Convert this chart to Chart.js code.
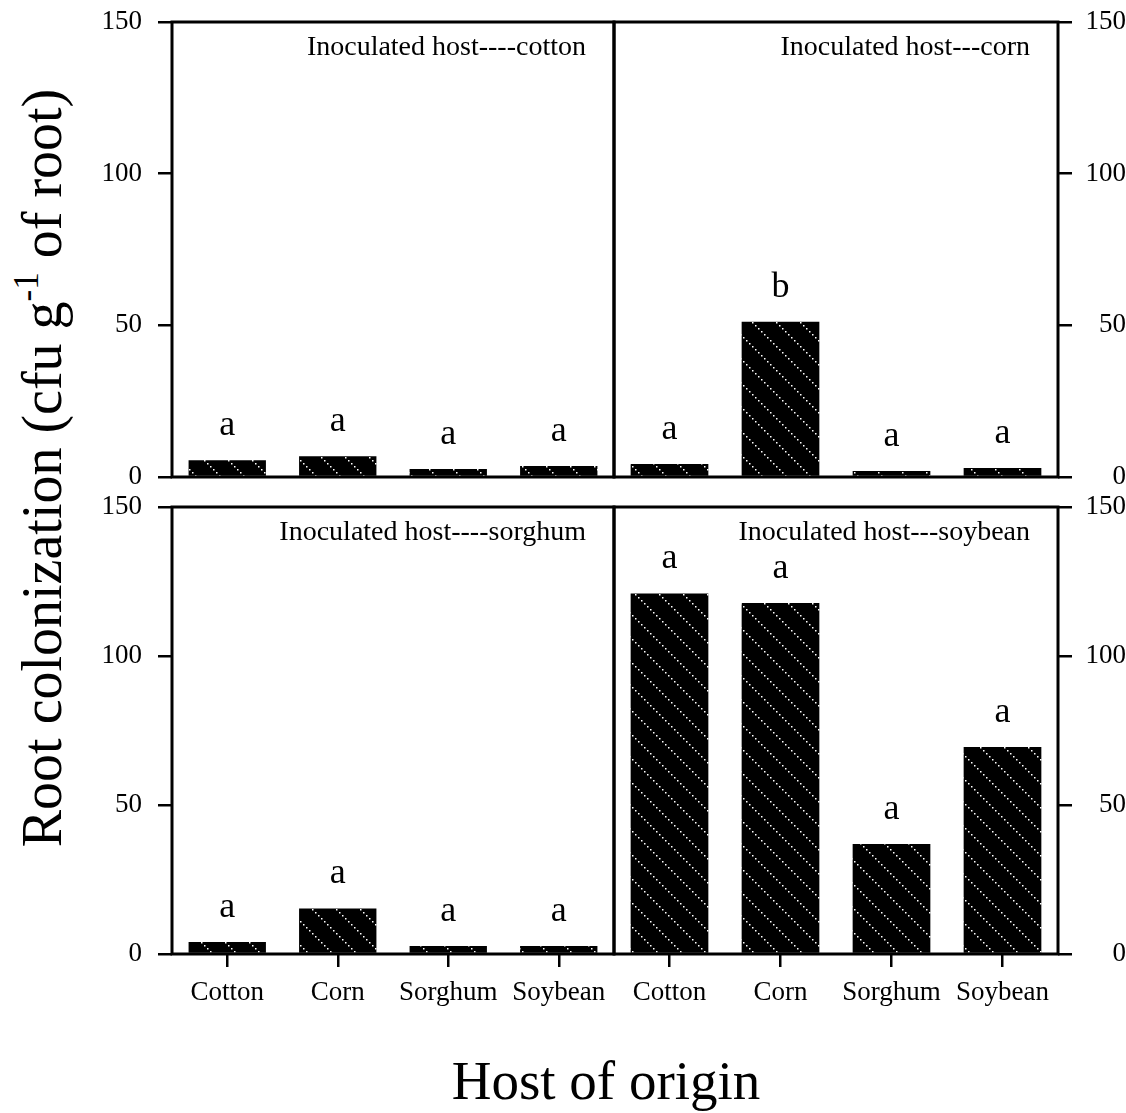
<!DOCTYPE html>
<html>
<head>
<meta charset="utf-8">
<script src="https://cdn.jsdelivr.net/npm/chart.js@4.4.1/dist/chart.umd.min.js"></script>
<style>
  html, body { margin: 0; padding: 0; background: #fff; }
  body { width: 1126px; height: 1113px; position: relative; overflow: hidden;
         font-family: 'Liberation Serif', 'Times New Roman', serif; color: #000; }
  canvas { position: absolute; }
  .ytitle { position: absolute; left: 42px; top: 468px; white-space: nowrap;
            font-size: 56px; transform: translate(-50%, -50%) rotate(-90deg); }
  .ytitle sup { font-size: 35px; vertical-align: 23px; line-height: 0; }
  .xtitle { position: absolute; left: 606px; top: 1080px; white-space: nowrap;
            font-size: 55px; transform: translate(-50%, -50%); }
</style>
</head>
<body>
<canvas id="pTL"></canvas>
<canvas id="pTR"></canvas>
<canvas id="pBL"></canvas>
<canvas id="pBR"></canvas>
<div class="ytitle">Root colonization (cfu g<sup>-1</sup> of root)</div>
<div class="xtitle">Host of origin</div>
<script>
'use strict';

/* ─── Data ─── */
const hosts = ['Cotton', 'Corn', 'Sorghum', 'Soybean'];

const titleCotton  = 'Inoculated host----cotton';
const titleCorn    = 'Inoculated host---corn';
const titleSorghum = 'Inoculated host----sorghum';
const titleSoybean = 'Inoculated host---soybean';

const cottonVals  = [5.5, 6.8, 2.6, 3.6];
const cornVals    = [4.3, 51.2, 2.0, 3.0];
const sorghumVals = [4.0, 15.3, 2.7, 2.7];
const soybeanVals = [121, 117.8, 36.9, 69.5];

const cottonLetters  = ['a', 'a', 'a', 'a'];
const cornLetters    = ['a', 'b', 'a', 'a'];
const sorghumLetters = ['a', 'a', 'a', 'a'];
const soybeanLetters = ['a', 'a', 'a', 'a'];

const yMin = 0, yMax = 150, yStep = 50;

const SERIF = "'Liberation Serif', 'Times New Roman', serif";

/* ─── Black fill with white dotted diagonals ─── */
function hatchPattern() {
  const c = document.createElement('canvas');
  c.width = 24; c.height = 24;
  const g = c.getContext('2d');
  g.fillStyle = '#000';
  g.fillRect(0, 0, 24, 24);
  g.fillStyle = '#fff';
  for (let i = 0; i < 24; i += 3) g.fillRect(i, i, 1.5, 1.5);
  return g.createPattern(c, 'repeat');
}

/* ─── Frame, panel title, letters above bars ─── */
const panelDeco = {
  id: 'panelDeco',
  afterDatasetsDraw(chart) {
    const { ctx, chartArea: a } = chart;
    const o = chart.options.plugins.panelDeco;
    ctx.save();
    ctx.fillStyle = '#000';
    ctx.font = '28px ' + SERIF;
    ctx.textAlign = 'right';
    ctx.textBaseline = 'alphabetic';
    ctx.fillText(o.title, a.right - 28, a.top + 33);

    ctx.font = '36px ' + SERIF;
    ctx.textAlign = 'center';
    chart.getDatasetMeta(0).data.forEach((bar, i) => {
      ctx.fillText(o.letters[i], bar.x, bar.y - 25);
    });

    ctx.strokeStyle = '#000';
    ctx.lineWidth = 3;
    ctx.strokeRect(a.left, a.top, a.right - a.left, a.bottom - a.top);
    ctx.restore();
  }
};

/* ─── Build one panel ─── */
function makePanel(id, box, values, letters, title, side, showX) {
  const el = document.getElementById(id);
  el.style.left = box.x + 'px';
  el.style.top = box.y + 'px';
  el.width = box.w;
  el.height = box.h;
  el.style.width = box.w + 'px';
  el.style.height = box.h + 'px';

  return new Chart(el, {
    type: 'bar',
    data: {
      labels: hosts,
      datasets: [{
        data: values,
        backgroundColor: hatchPattern(),
        borderWidth: 0,
        barPercentage: 0.7,
        categoryPercentage: 1.0
      }]
    },
    plugins: [panelDeco],
    options: {
      responsive: false,
      animation: false,
      layout: { padding: box.pad },
      plugins: {
        legend: { display: false },
        tooltip: { enabled: false },
        panelDeco: { title: title, letters: letters }
      },
      scales: {
        x: {
          display: showX,
          offset: true,
          border: { display: false },
          grid: { display: true, drawOnChartArea: false, offset: false,
                  tickLength: 13, color: '#000', lineWidth: 2.5 },
          ticks: { color: '#000', padding: 10, maxRotation: 0,
                   font: { family: SERIF, size: 27 } },
          afterFit: s => { s.height = showX ? 62 : 0; }
        },
        y: {
          position: side,
          min: yMin, max: yMax,
          border: { display: false },
          grid: { display: true, drawOnChartArea: false,
                  tickLength: 14, color: '#000', lineWidth: 2.5 },
          ticks: { stepSize: yStep, color: '#000', padding: side === 'left' ? 16 : 4,
                   crossAlign: side === 'left' ? 'near' : 'far',
                   font: { family: SERIF, size: 27 } },
          afterFit: s => { s.width = box.yw; }
        }
      }
    }
  });
}

/* plot areas: left 172–614, right 614–1058; top 22–477, bottom 507–954.
   top padding of 36 covers the y-label overflow Chart.js reserves itself */
makePanel('pTL', { x: 90,  y: -14, w: 530, h: 527, yw: 82,
  pad: { left: 0, right: 6, top: 36, bottom: 36 } },
  cottonVals, cottonLetters, titleCotton, 'left', false);
makePanel('pTR', { x: 608, y: -14, w: 518, h: 527, yw: 68,
  pad: { left: 6, right: 0, top: 36, bottom: 36 } },
  cornVals, cornLetters, titleCorn, 'right', false);
makePanel('pBL', { x: 90,  y: 471, w: 530, h: 545, yw: 82,
  pad: { left: 0, right: 6, top: 36, bottom: 0 } },
  sorghumVals, sorghumLetters, titleSorghum, 'left', true);
makePanel('pBR', { x: 608, y: 471, w: 518, h: 545, yw: 68,
  pad: { left: 6, right: 0, top: 36, bottom: 0 } },
  soybeanVals, soybeanLetters, titleSoybean, 'right', true);
</script>
</body>
</html>
